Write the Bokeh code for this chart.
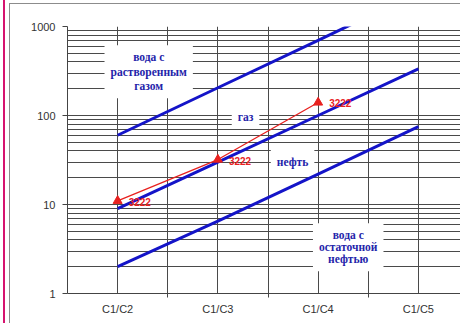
from bokeh.plotting import figure
from bokeh.models import Range1d, FixedTicker, ColumnDataSource, NumeralTickFormatter
from bokeh.core.properties import value
from bokeh.embed import file_html
from bokeh.resources import INLINE

# ---- data ----
categories = ["C1/C2", "C1/C3", "C1/C4", "C1/C5"]
cat_pos = [1, 2, 3, 4]
y_ticks = [1, 10, 100, 1000]
line_water_gas = [60, 205, 700, 2400]      # upper boundary line
line_gas_oil = [9, 30, 100, 335]           # gas / oil boundary
line_oil_water = [2, 6.5, 22, 75]          # lower boundary line
sample_pos = [1, 2, 3]
sample_vals = [11, 32, 140]
sample_labels = ["3222", "3222", "3222"]
region_texts = ["вода с\nрастворенным\nгазом", "газ", "нефть", "вода с\nостаточной\nнефтью"]
region_x = [1.31, 2.276, 2.745, 3.30]
region_y = [310, 97, 30.4, 3.3]

BLUE = "#1414c8"
RED = "#e8211f"
TXT_BLUE = "#2424aa"
GRID = "#4a4a4a"

p = figure(width=460, height=323, x_range=Range1d(0.5, 4.42), y_range=Range1d(1, 1000),
           y_axis_type="log", output_backend="svg", toolbar_location=None,
           min_border_left=67, min_border_right=0, min_border_top=26, min_border_bottom=30)
p.outline_line_color = None
p.background_fill_color = "white"
p.border_fill_color = None
p.styles = {
    "background": (
        "linear-gradient(#8c8c8c,#8c8c8c) 9px 3px / 1px 100% no-repeat, "
        "linear-gradient(#8c8c8c,#8c8c8c) 9px 3px / 100% 1px no-repeat, "
        "linear-gradient(#d6136f,#d6136f) 3px 0px / 2px 100% no-repeat, white"
    )
}

# grids
p.xgrid.ticker = FixedTicker(ticks=[0.5, 1, 1.5, 2, 2.5, 3, 3.5, 4, 4.5])
p.xgrid.grid_line_color = GRID
p.xgrid.grid_line_width = 1
minor_y = [m * 10 ** k for k in range(3) for m in range(2, 10)]
p.ygrid.ticker = FixedTicker(ticks=y_ticks, minor_ticks=minor_y)
p.ygrid.grid_line_color = GRID
p.ygrid.minor_grid_line_color = GRID
p.ygrid.grid_line_width = 1
p.ygrid.minor_grid_line_width = 1

# axes
p.xaxis.ticker = FixedTicker(ticks=cat_pos, minor_ticks=[1.5, 2.5, 3.5])
p.xaxis.major_label_overrides = {c: l for c, l in zip(cat_pos, categories)}
p.xaxis.major_tick_out = 0
p.xaxis.major_tick_in = 0
p.xaxis.minor_tick_out = 4
p.xaxis.minor_tick_in = 0
p.xaxis.major_label_standoff = 5
p.yaxis.ticker = FixedTicker(ticks=y_ticks)
p.yaxis.formatter = NumeralTickFormatter(format="0")
p.yaxis.major_tick_out = 5
p.yaxis.major_tick_in = 0
p.yaxis.minor_tick_out = 0
p.yaxis.minor_tick_in = 0
p.yaxis.major_label_standoff = 7
for ax in (p.xaxis, p.yaxis):
    ax.axis_line_color = "#444444"
    ax.major_tick_line_color = "#444444"
    ax.minor_tick_line_color = "#444444"
    ax.major_label_text_font = "Liberation Sans"
    ax.major_label_text_font_size = "11px"
    ax.major_label_text_color = "#333333"

# region labels (white boxes under the lines)
rsrc = ColumnDataSource(dict(x=region_x, y=region_y, t=region_texts,
                             lh=[1.2, 1.2, 1.2, 1.0], pad=[7, 4, 4, 5]))
p.text("x", "y", text="t", source=rsrc, text_align="center", text_baseline="middle",
       text_font=value("Liberation Serif"), text_font_style="bold", text_font_size="11.5px",
       text_color=TXT_BLUE, text_line_height="lh", background_fill_color="white",
       padding=6)

# blue boundary lines
for ys in (line_water_gas, line_gas_oil, line_oil_water):
    p.line(cat_pos, ys, line_color=BLUE, line_width=3)

# red sample line
src = ColumnDataSource(dict(x=sample_pos, y=sample_vals, t=sample_labels))
p.line("x", "y", source=src, line_color=RED, line_width=1.3)
p.scatter("x", "y", source=src, marker="triangle", size=9, fill_color=RED, line_color=RED)
p.text("x", "y", text="t", source=src, x_offset=11, y_offset=1, text_baseline="middle",
       text_font=value("Liberation Sans"), text_font_style="bold", text_font_size="10px",
       text_color=RED)

open("out.html", "w").write(file_html(p, INLINE))
